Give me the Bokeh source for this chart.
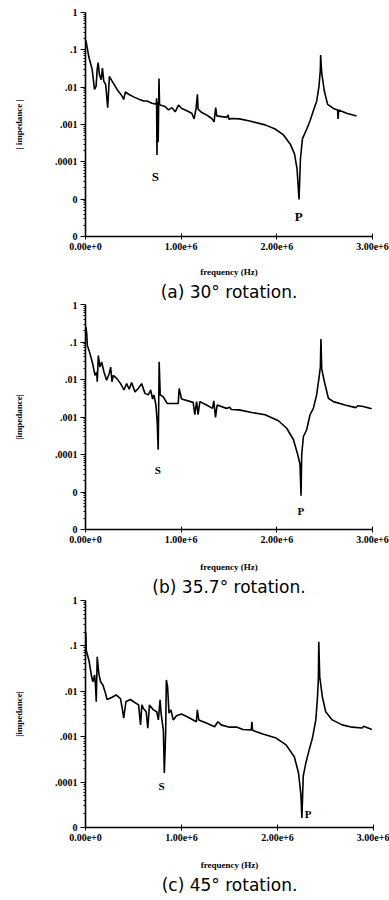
from bokeh.plotting import figure
from bokeh.layouts import column
from bokeh.models import FixedTicker, Label, Range1d, Title
from bokeh.embed import file_html
from bokeh.resources import INLINE

# ---------------- data (frequency in MHz, log10 |impedance|) ----------------
freq_a = [0.005, 0.018, 0.034, 0.070, 0.094, 0.111, 0.122, 0.132, 0.146, 0.164, 0.177, 0.191,
          0.211, 0.232, 0.250, 0.278, 0.330, 0.382, 0.399, 0.417, 0.451, 0.503, 0.573, 0.607,
          0.643, 0.695, 0.740, 0.743, 0.747, 0.753, 0.760, 0.768, 0.774, 0.781, 0.833, 0.868,
          0.903, 0.938, 0.972, 1.007, 1.059, 1.111, 1.135, 1.156, 1.170, 1.177, 1.216, 1.268,
          1.320, 1.344, 1.361, 1.372, 1.424, 1.476, 1.490, 1.500, 1.528, 1.607, 1.705, 1.878,
          1.982, 2.070, 2.139, 2.184, 2.211, 2.232, 2.247, 2.268, 2.313, 2.347, 2.382, 2.417,
          2.441, 2.455, 2.458, 2.469, 2.497, 2.531, 2.591, 2.635, 2.640, 2.646, 2.729, 2.833]
logz_a = [-0.75, -0.95, -1.18, -1.53, -2.06, -1.97, -1.53, -1.34, -1.67, -1.80, -1.49, -1.84,
          -1.93, -2.55, -1.71, -1.84, -2.06, -2.24, -2.33, -2.13, -2.19, -2.26, -2.34, -2.37,
          -2.37, -2.43, -2.46, -2.30, -3.82, -2.40, -3.47, -1.77, -2.46, -2.48, -2.52, -2.61,
          -2.55, -2.66, -2.48, -2.57, -2.63, -2.70, -2.85, -2.57, -2.19, -2.59, -2.68, -2.75,
          -2.84, -2.93, -2.55, -2.77, -2.79, -2.81, -2.74, -2.86, -2.84, -2.85, -2.90, -3.01,
          -3.12, -3.28, -3.52, -3.78, -4.18, -5.01, -3.91, -3.38, -3.12, -2.90, -2.63, -2.37,
          -1.97, -1.53, -1.14, -1.62, -2.11, -2.46, -2.57, -2.61, -2.85, -2.61, -2.70, -2.77]

freq_b = [0.005, 0.013, 0.019, 0.047, 0.075, 0.099, 0.117, 0.123, 0.134, 0.151, 0.169, 0.193,
          0.221, 0.248, 0.263, 0.277, 0.290, 0.326, 0.367, 0.402, 0.430, 0.457, 0.482, 0.517,
          0.551, 0.587, 0.621, 0.656, 0.681, 0.701, 0.715, 0.736, 0.749, 0.760, 0.770, 0.781,
          0.812, 0.854, 0.969, 0.979, 1.004, 1.125, 1.143, 1.161, 1.177, 1.195, 1.265, 1.328,
          1.341, 1.359, 1.376, 1.474, 1.508, 1.524, 1.605, 1.738, 1.877, 2.017, 2.103, 2.173,
          2.218, 2.242, 2.253, 2.260, 2.278, 2.312, 2.347, 2.382, 2.416, 2.440, 2.455, 2.461,
          2.469, 2.497, 2.539, 2.591, 2.712, 2.824, 2.845, 2.904, 2.991]
logz_b = [-0.60, -0.78, -1.09, -1.31, -1.58, -1.89, -1.80, -2.06, -1.36, -1.67, -1.53, -1.80,
          -2.02, -1.84, -1.67, -2.06, -1.89, -1.97, -2.11, -2.28, -2.11, -2.26, -2.08, -2.33,
          -2.24, -2.11, -2.37, -2.41, -2.28, -2.52, -2.41, -2.68, -3.12, -3.87, -1.53, -2.41,
          -2.46, -2.64, -2.64, -2.24, -2.52, -2.61, -2.94, -2.59, -2.94, -2.59, -2.68, -2.77,
          -2.57, -3.01, -2.68, -2.77, -2.74, -2.80, -2.81, -2.88, -2.94, -3.10, -3.30, -3.60,
          -4.00, -4.26, -5.10, -4.00, -3.52, -3.34, -2.94, -2.77, -2.41, -1.97, -1.67, -0.92,
          -1.71, -2.06, -2.50, -2.59, -2.68, -2.75, -2.70, -2.72, -2.78]

freq_c = [0.003, 0.008, 0.036, 0.064, 0.077, 0.095, 0.105, 0.112, 0.122, 0.139, 0.157, 0.181,
          0.209, 0.225, 0.277, 0.318, 0.364, 0.380, 0.398, 0.421, 0.467, 0.501, 0.553, 0.573,
          0.587, 0.604, 0.632, 0.649, 0.666, 0.708, 0.742, 0.759, 0.777, 0.787, 0.801, 0.811,
          0.821, 0.835, 0.842, 0.855, 0.870, 0.890, 0.914, 0.948, 1.000, 1.069, 1.155, 1.165,
          1.180, 1.258, 1.345, 1.379, 1.413, 1.500, 1.579, 1.640, 1.727, 1.733, 1.740, 1.847,
          1.986, 2.089, 2.175, 2.219, 2.244, 2.254, 2.268, 2.295, 2.330, 2.364, 2.399, 2.415,
          2.426, 2.430, 2.440, 2.467, 2.502, 2.570, 2.674, 2.777, 2.880, 2.898, 2.983]
logz_c = [-0.70, -1.10, -1.32, -1.68, -1.79, -1.64, -1.90, -2.23, -1.24, -1.61, -1.79, -1.86,
          -2.05, -2.18, -2.13, -2.08, -2.16, -2.34, -2.59, -2.23, -2.18, -2.23, -2.30, -2.74,
          -2.30, -2.38, -2.45, -2.81, -2.30, -2.41, -2.45, -2.63, -2.19, -2.48, -2.70, -2.85,
          -3.80, -2.92, -1.75, -1.90, -2.48, -2.41, -2.63, -2.54, -2.50, -2.57, -2.67, -2.41,
          -2.63, -2.70, -2.78, -2.67, -2.74, -2.79, -2.79, -2.84, -2.85, -2.67, -2.86, -2.94,
          -3.03, -3.18, -3.44, -3.80, -4.28, -4.79, -3.87, -3.58, -3.29, -3.03, -2.63, -2.19,
          -1.72, -0.91, -1.68, -2.12, -2.45, -2.63, -2.74, -2.79, -2.81, -2.77, -2.84]

# resonance markers (frequency MHz, log10 |impedance| at the letter)
marks_a = {"S": (0.73, -4.39), "P": (2.23, -5.47)}
marks_b = {"S": (0.757, -4.40), "P": (2.25, -5.50)}
marks_c = {"S": (0.793, -4.09), "P": (2.32, -4.71)}

x_ticks = [0, 1000000, 2000000, 3000000]
x_tick_labels = ["0.00e+0", "1.00e+6", "2.00e+6", "3.00e+6"]
y_ticks_6 = [1e-6, 1e-5, 1e-4, 1e-3, 1e-2, 1e-1, 1]
y_tick_labels_6 = ["0", "0", ".0001", ".001", ".01", ".1", "1"]
y_ticks_5 = [1e-5, 1e-4, 1e-3, 1e-2, 1e-1, 1]
y_tick_labels_5 = ["0", ".0001", ".001", ".01", ".1", "1"]

captions = ["(a) 30\u00b0 rotation.", "(b) 35.7\u00b0 rotation.", "(c) 45\u00b0 rotation."]
y_titles = ["| impedance |", "|impedance|", "|impedance|"]
x_title = "frequency (Hz)"

SERIF = "Liberation Serif"
CAPTION_FONT = "DejaVu Sans"


def panel(freq, logz, yticks, ylabels, ytitle, caption, marks, frame_h, left, frame_w, top,
          xlab_standoff, mark_size):
    xs = [f * 1e6 for f in freq]
    ys = [10 ** v for v in logz]
    p = figure(frame_width=frame_w, frame_height=frame_h,
               x_axis_type="linear", y_axis_type="log",
               x_range=Range1d(0, 3e6), y_range=Range1d(yticks[0], 1),
               output_backend="svg", toolbar_location=None,
               min_border_left=left, min_border_right=389 - left - frame_w,
               min_border_top=top, min_border_bottom=0)
    p.outline_line_color = None
    p.xgrid.visible = False
    p.ygrid.visible = False
    p.background_fill_color = "white"
    p.border_fill_color = "white"

    p.line(xs, ys, line_color="black", line_width=1.6)

    minors = []
    for t in yticks[:-1]:
        minors += [t * k for k in range(2, 10)]
    p.yaxis.ticker = FixedTicker(ticks=yticks, minor_ticks=minors)
    p.yaxis.major_label_overrides = {t: l for t, l in zip(yticks, ylabels)}
    p.xaxis.ticker = FixedTicker(ticks=x_ticks)
    p.xaxis.major_label_overrides = {t: l for t, l in zip(x_ticks, x_tick_labels)}
    for ax in (p.xaxis[0], p.yaxis[0]):
        ax.axis_line_width = 1.6
        ax.axis_line_color = "black"
        ax.major_tick_line_color = "black"
        ax.minor_tick_line_color = "black"
        ax.major_label_text_font = SERIF
        ax.major_label_text_font_style = "bold"
        ax.major_label_text_font_size = "10px"
        ax.major_label_text_color = "black"
        ax.axis_label_text_font = SERIF
        ax.axis_label_text_font_style = "bold"
        ax.axis_label_text_font_size = "9px"
        ax.axis_label_text_color = "black"
        ax.major_label_standoff = 3
    p.yaxis.major_tick_out = 5
    p.yaxis.major_tick_in = 0
    p.yaxis.minor_tick_out = 2
    p.yaxis.minor_tick_in = 0
    p.xaxis.major_tick_out = 3
    p.xaxis.major_tick_in = 3
    p.yaxis.axis_label = ytitle
    p.yaxis.axis_label_standoff = 28
    p.xaxis.axis_label = x_title
    p.xaxis.axis_label_standoff = xlab_standoff

    for txt, (fx, lz) in marks.items():
        p.add_layout(Label(x=fx * 1e6, y=10 ** lz, text=txt, text_align="center",
                           text_baseline="middle", text_font=SERIF,
                           text_font_style="bold", text_font_size=mark_size,
                           text_color="black"))

    p.add_layout(Title(text=caption, align="center", text_font=CAPTION_FONT,
                       text_font_size="17px", text_font_style="normal",
                       text_color="black", standoff=0), "below")
    return p


pa = panel(freq_a, logz_a, y_ticks_6, y_tick_labels_6, y_titles[0], captions[0], marks_a,
           224, 84, 287, 12, 14, "13px")
pb = panel(freq_b, logz_b, y_ticks_6, y_tick_labels_6, y_titles[1], captions[1], marks_b,
           225, 84, 287, 3, 16, "11px")
pc = panel(freq_c, logz_c, y_ticks_5, y_tick_labels_5, y_titles[2], captions[2], marks_c,
           227, 85, 288, 4, 16, "11px")

layout = column(pa, pb, pc, spacing=0)
open("out.html", "w").write(file_html(layout, INLINE))
